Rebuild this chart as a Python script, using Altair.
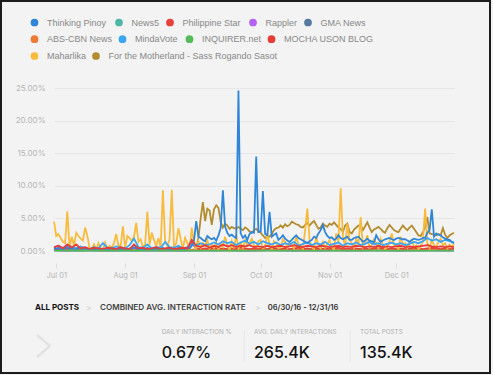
import altair as alt
import pandas as pd

START = pd.Timestamp("2016-06-30")

row1 = ["Thinking Pinoy", "News5", "Philippine Star", "Rappler", "GMA News"]
row1_colors = ["#2f86d8", "#4db6a4", "#e8413c", "#b561f2", "#56799e"]
row2 = ["ABS-CBN News", "MindaVote", "INQUIRER.net", "MOCHA USON BLOG"]
row2_colors = ["#ee7a38", "#3aa6f2", "#55bb59", "#e63b36"]
row3 = ["Maharlika", "For the Motherland - Sass Rogando Sasot"]
row3_colors = ["#f9bb3c", "#b38c2d"]

# daily interaction rate (%), one value per day from 06/30
maharlika = [
    4.5, 2.3, 2.6, 2.0, 1.4, 1.2, 6.1, 0.6, 2.2, 0.8,
    2.8, 2.3, 1.9, 1.6, 3.6, 2.3, 0.5, 0.3, 1.0, 0.2,
    1.2, 0.4, 0.1, 1.3, 0.3, 0.8, 0.5, 1.2, 2.6, 0.8,
    0.7, 3.8, 0.5, 2.3, 2.0, 1.5, 2.2, 4.3, 1.4, 1.8,
    0.6, 1.0, 6.0, 1.0, 2.8, 1.7, 0.8, 2.0, 0.5, 9.3,
    1.5, 0.8, 1.8, 9.4, 0.6, 1.2, 3.5, 1.8, 0.4, 2.0,
    1.2, 0.2, 3.6, 1.0, 0.4, 1.5, 0.5, 1.2, 0.8, 1.7,
    0.3, 1.0, 0.5, 1.3, 0.2, 1.0, 0.6, 2.2, 0.8, 0.1,
    1.5, 0.4, 2.5, 0.3, 1.2, 0.5, 1.7, 0.8, 1.2, 1.9,
    0.9, 0.6, 1.5, 1.7, 0.4, 0.6, 2.7, 1.0, 0.3, 1.5,
    1.2, 0.4, 0.6, 1.8, 1.4, 0.5, 1.3, 0.9, 0.4, 2.2,
    1.0, 0.9, 0.3, 3.2, 6.5, 1.7, 0.6, 0.2, 2.2, 0.9,
    0.4, 1.4, 0.5, 1.1, 1.7, 0.6, 0.2, 2.7, 1.4, 9.6,
    2.2, 0.6, 4.2, 1.7, 1.2, 0.5, 1.9, 1.0, 5.2, 0.6,
    1.3, 2.4, 0.5, 0.9, 1.8, 1.2, 0.4, 1.9, 1.0, 0.3,
    0.6, 1.5, 2.7, 0.8, 0.9, 0.3, 2.2, 1.0, 1.2, 0.5,
    1.4, 1.7, 0.6, 0.9, 0.3, 0.6, 1.5, 6.5, 1.2, 0.5,
    1.7, 0.9, 0.6, 1.4, 1.9, 0.8, 1.2, 0.4, 1.0, 0.6, 1.1,
]

thinking_pinoy = [
    0.4, 0.3, 0.5, 0.3, 0.2, 0.4, 0.6, 0.3, 0.4, 0.2,
    0.3, 0.5, 0.3, 0.2, 0.4, 0.3, 0.2, 0.3, 0.4, 0.2,
    0.3, 0.2, 0.4, 0.3, 0.2, 0.3, 0.5, 0.3, 0.2, 0.4,
    0.3, 0.5, 0.3, 0.2, 0.4, 0.3, 0.6, 0.4, 0.3, 0.2,
    0.4, 0.3, 0.5, 0.3, 0.2, 0.3, 0.4, 0.3, 0.2, 0.5,
    0.3, 0.4, 0.3, 0.2, 0.4, 0.3, 0.5, 0.3, 0.4, 0.3,
    0.5, 0.4, 0.8, 1.6, 4.6, 2.2, 2.0, 1.7, 1.5, 2.3,
    2.0, 1.8, 2.0, 1.6, 2.4, 3.5, 9.3, 3.7, 2.8, 2.3,
    2.5, 2.2, 2.0, 24.6, 2.7, 2.0, 2.4, 1.7, 2.6, 2.9,
    2.8, 14.5, 2.9, 3.0, 9.2, 2.6, 2.4, 6.0, 2.2, 2.5,
    2.7, 1.7, 2.0, 2.4, 1.9, 1.6, 1.4, 1.7, 2.1, 2.4,
    2.0, 1.8, 1.6, 1.4, 1.2, 1.5, 1.7, 2.2, 2.0, 2.7,
    3.2, 4.0, 2.9, 2.3, 2.0, 2.1, 1.7, 1.9, 2.4, 2.0,
    1.8, 2.0, 2.2, 1.7, 1.7, 2.0, 2.1, 2.2, 1.8, 1.4,
    1.6, 1.9, 1.6, 1.5, 1.3, 2.4, 1.8, 1.4, 1.6, 1.8,
    1.9, 2.0, 1.8, 1.7, 1.9, 2.0, 1.9, 1.8, 1.8, 1.6,
    1.4, 1.7, 1.9, 1.8, 1.7, 1.8, 2.0, 2.0, 2.8, 3.2,
    6.4, 2.2, 2.7, 2.5, 2.4, 2.1, 1.9, 1.8, 1.7, 1.4, 1.2,
]

# starts 64 days after 06/30
motherland_start = 64
motherland = [
    0.4, 2.0, 5.0, 7.5, 4.6, 6.5, 6.2, 4.0, 6.4, 7.0,
    6.6, 4.5, 3.6, 4.2, 3.9, 3.4, 3.7, 3.5, 3.4, 3.7,
    3.4, 3.2, 3.6, 3.4, 3.0, 2.8, 3.2, 3.4, 3.0, 2.8,
    2.4, 2.0, 2.3, 2.2, 2.6, 3.2, 3.5, 3.6, 3.9, 3.6,
    4.1, 3.8, 4.0, 4.5, 4.3, 4.1, 4.0, 3.7, 3.6, 4.0,
    4.3, 3.9, 4.3, 4.6, 4.0, 3.4, 3.6, 4.2, 3.9, 3.7,
    4.2, 4.0, 4.4, 4.0, 3.6, 3.4, 2.9, 3.9, 4.2, 2.9,
    2.7, 3.3, 3.6, 3.9, 4.0, 3.2, 3.8, 4.4, 3.6, 2.9,
    3.3, 3.5, 3.7, 3.4, 3.0, 2.8, 3.5, 4.0, 3.6, 3.2,
    3.0, 2.9, 3.4, 3.9, 3.5, 3.2, 3.6, 3.9, 3.4, 2.9,
    2.4, 2.3, 2.9, 3.6, 5.2, 2.7, 2.6, 2.5, 2.4, 2.6,
    2.4, 3.5, 2.5, 2.0, 2.4, 2.6, 2.8,
]

# every second day (%)
mindavote = [
    0.5, 0.8, 0.4, 0.9, 0.6, 0.4, 0.7, 0.5, 0.3, 0.6,
    0.4, 1.2, 0.5, 0.4, 0.7, 0.5, 0.4, 0.9, 1.9, 0.6,
    0.5, 1.0, 0.4, 0.6, 0.5, 1.4, 0.6, 0.5, 0.8, 0.4,
    0.6, 1.0, 0.8, 1.2, 0.9, 1.0, 1.3, 1.0, 1.5, 1.2,
    1.4, 0.9, 1.3, 1.6, 1.1, 1.4, 1.0, 1.5, 1.2, 1.0,
    1.3, 0.9, 1.2, 1.0, 1.4, 0.8, 1.1, 1.3, 0.9, 1.2,
    1.0, 1.4, 0.9, 1.1, 1.3, 0.8, 1.2, 1.0, 1.3, 0.9,
    1.1, 1.4, 1.0, 1.2, 0.9, 1.1, 1.3, 1.0, 1.2, 0.9,
    1.1, 1.4, 1.2, 1.5, 2.0, 1.6, 1.8, 1.4, 1.7, 1.5, 1.3,
]
mocha = [
    0.6, 0.8, 0.4, 1.0, 0.5, 1.0, 0.4, 0.6, 0.3, 0.5,
    0.4, 0.3, 0.5, 0.4, 0.3, 0.6, 0.4, 0.3, 1.0, 0.4,
    0.5, 0.3, 0.4, 0.6, 0.3, 0.4, 0.5, 0.3, 0.4, 0.5,
    0.4, 1.7, 0.8, 0.6, 0.9, 0.5, 0.8, 0.6, 1.0, 0.7,
    0.9, 0.6, 0.8, 0.7, 0.9, 0.6, 0.7, 0.6, 0.8, 0.6,
    0.7, 0.8, 0.6, 0.7, 0.9, 0.7, 0.6, 0.8, 0.7, 0.6,
    0.8, 0.7, 0.6, 0.7, 0.8, 0.6, 0.7, 0.6, 0.8, 0.7,
    0.6, 0.7, 0.6, 0.8, 0.6, 0.7, 0.6, 0.7, 0.8, 0.6,
    0.7, 0.6, 0.7, 0.8, 0.9, 0.7, 0.6, 0.7, 0.6, 0.7, 0.6,
]
philstar = [
    0.3, 0.2, 0.5, 0.3, 0.7, 0.3, 0.2, 0.4, 0.3, 0.2,
    0.3, 0.2, 0.3, 0.4, 0.2, 0.3, 0.2, 0.3, 0.5, 0.2,
    0.3, 0.2, 0.4, 0.3, 0.2, 0.3, 0.2, 0.3, 0.2, 0.3,
    0.4, 1.2, 0.4, 0.3, 0.4, 0.3, 0.5, 0.3, 0.4, 0.3,
    0.4, 0.3, 0.5, 0.4, 0.3, 0.4, 0.3, 0.4, 0.3, 0.5,
    0.4, 0.3, 0.4, 0.3, 0.4, 0.5, 0.3, 0.4, 0.3, 0.4,
    0.3, 0.4, 0.3, 0.4, 0.5, 0.3, 0.4, 0.3, 0.4, 0.3,
    0.4, 0.3, 0.4, 0.5, 0.4, 0.3, 0.4, 0.3, 0.4, 0.3,
    0.4, 0.5, 0.4, 0.3, 0.4, 0.5, 0.4, 0.3, 0.4, 0.3, 0.4,
]

# every sixth day (%)
news5 = [0.15, 0.1, 0.2, 0.1, 0.15, 0.1, 0.12, 0.2, 0.1, 0.15, 0.12, 0.1, 0.2, 0.15, 0.1, 0.12,
         0.18, 0.1, 0.15, 0.12, 0.1, 0.2, 0.12, 0.15, 0.1, 0.12, 0.18, 0.1, 0.15, 0.12, 0.1]
rappler = [0.1, 0.08, 0.12, 0.1, 0.06, 0.1, 0.12, 0.08, 0.1, 0.06, 0.1, 0.12, 0.08, 0.1, 0.1, 0.06,
           0.1, 0.12, 0.08, 0.1, 0.06, 0.1, 0.12, 0.08, 0.1, 0.1, 0.06, 0.1, 0.12, 0.08, 0.1]
gma = [0.12, 0.1, 0.08, 0.12, 0.1, 0.14, 0.08, 0.1, 0.12, 0.1, 0.08, 0.12, 0.1, 0.14, 0.08, 0.1,
       0.12, 0.1, 0.08, 0.12, 0.1, 0.14, 0.08, 0.1, 0.12, 0.1, 0.08, 0.12, 0.1, 0.14, 0.1]
abscbn = [0.2, 0.15, 0.25, 0.18, 0.15, 0.2, 0.22, 0.15, 0.18, 0.2, 0.15, 0.25, 0.18, 0.2, 0.15, 0.22,
          0.18, 0.2, 0.15, 0.25, 0.18, 0.2, 0.15, 0.22, 0.18, 0.2, 0.15, 0.25, 0.18, 0.2, 0.15]
inquirer = [0.06, 0.05, 0.08, 0.05, 0.06, 0.07, 0.05, 0.06, 0.08, 0.05, 0.06, 0.05, 0.07, 0.06, 0.05, 0.06,
            0.08, 0.05, 0.06, 0.05, 0.07, 0.06, 0.05, 0.06, 0.08, 0.05, 0.06, 0.05, 0.07, 0.06, 0.05]

crumbs = ["ALL POSTS", "COMBINED AVG. INTERACTION RATE", "06/30/16 - 12/31/16"]
stat_labels = ["DAILY INTERACTION %", "AVG. DAILY INTERACTIONS", "TOTAL POSTS"]
stat_values = ["0.67%", "265.4K", "135.4K"]

SERIES = {
    "Thinking Pinoy": (thinking_pinoy, 0, 1),
    "News5": (news5, 0, 6),
    "Philippine Star": (philstar, 0, 2),
    "Rappler": (rappler, 0, 6),
    "GMA News": (gma, 0, 6),
    "ABS-CBN News": (abscbn, 0, 6),
    "MindaVote": (mindavote, 0, 2),
    "INQUIRER.net": (inquirer, 0, 6),
    "MOCHA USON BLOG": (mocha, 0, 2),
    "Maharlika": (maharlika, 0, 1),
    "For the Motherland - Sass Rogando Sasot": (motherland, motherland_start, 1),
}

COLORS = dict(zip(row1 + row2 + row3, row1_colors + row2_colors + row3_colors))

# legend entry anchors (circle centre in page pixels), laid out in three rows
LEGEND_ROWS_Y = [23.5, 40.2, 57.0]
LEGEND_POS = {
    "Thinking Pinoy": (34.5, 0), "News5": (119, 0), "Philippine Star": (170, 0),
    "Rappler": (253, 0), "GMA News": (308, 0),
    "ABS-CBN News": (34.5, 1), "MindaVote": (122.5, 1), "INQUIRER.net": (189.5, 1),
    "MOCHA USON BLOG": (271.5, 1),
    "Maharlika": (34.5, 2), "For the Motherland - Sass Rogando Sasot": (96, 2),
}

PAD_L, PAD_T = 54, 88


def frame(name):
    vals, offset, step = SERIES[name]
    dates = [START + pd.Timedelta(days=offset + i * step) for i in range(len(vals))]
    return pd.DataFrame({
        "date": [d.strftime("%Y-%m-%d") for d in dates],
        "value": [v / 100 for v in vals],
        "series": name,
    })


FONT = "Inter"
LEGEND_FONT = "Liberation Sans"

x_enc = alt.X(
    "date:T",
    scale=alt.Scale(
        type="utc", nice=False,
        domain=[alt.DateTime(year=2016, month=6, date=30, utc=True),
                alt.DateTime(year=2016, month=12, date=27, utc=True)],
    ),
    axis=alt.Axis(
        values=[alt.DateTime(year=2016, month=m, date=1, utc=True) for m in range(7, 13)],
        format="%b %d", title=None, domain=False, grid=False, ticks=True,
        tickColor="#dcdcdc", tickSize=5, offset=12, labelPadding=3,
        labelColor="#b5b5b5", labelFontSize=7.5, labelFont=FONT,
    ),
)
y_enc = alt.Y(
    "value:Q",
    scale=alt.Scale(domain=[0, 0.25], nice=False),
    axis=alt.Axis(
        values=[0, 0.05, 0.10, 0.15, 0.20, 0.25], format=".2%", title=None,
        domain=False, ticks=False, grid=True, gridColor="#e6e6e6",
        labelPadding=9, labelColor="#b5b5b5", labelFontSize=8, labelFont=FONT,
    ),
)


def series_layer(name):
    cx, row = LEGEND_POS[name]
    cy = LEGEND_ROWS_Y[row]
    return alt.Chart(frame(name)).mark_line(strokeWidth=1.8).encode(
        x=x_enc,
        y=y_enc,
        color=alt.Color(
            "series:N",
            scale=alt.Scale(domain=[name], range=[COLORS[name]]),
            legend=alt.Legend(
                orient="none", legendX=cx - PAD_L - 4.5, legendY=cy - PAD_T - 5.5,
                direction="horizontal", title=None, symbolType="circle",
                symbolSize=14, symbolStrokeWidth=4,
                labelFont=LEGEND_FONT, labelFontSize=9, labelColor="#888888",
                labelOffset=8, padding=0, labelLimit=400,
            ),
        ),
    )


draw_order = ["News5", "Rappler", "GMA News", "ABS-CBN News", "Philippine Star",
              "For the Motherland - Sass Rogando Sasot", "Maharlika", "MindaVote",
              "Thinking Pinoy", "MOCHA USON BLOG", "INQUIRER.net"]
lines = [series_layer(n) for n in draw_order]

one = pd.DataFrame({"k": [0]})


def text(s, x, y, size, color, weight="normal"):
    return alt.Chart(pd.DataFrame({"t": [s]})).mark_text(
        align="left", baseline="middle", font=FONT, fontSize=size,
        fontWeight=weight, color=color,
    ).encode(x=alt.value(x), y=alt.value(y), text="t:N")


def seg(x, y, x2, y2, color, width):
    return alt.Chart(one).mark_rule(stroke=color, strokeWidth=width).encode(
        x=alt.value(x), y=alt.value(y), x2=alt.value(x2), y2=alt.value(y2))


border = alt.Chart(one).mark_rect(fillOpacity=0, stroke="#1c1c1c", strokeWidth=2).encode(
    x=alt.value(-53), x2=alt.value(436), y=alt.value(-87), y2=alt.value(285))

deco = [
    border,
    text(crumbs[0], -19, 219.7, 8, "#111111", "bold"),
    text(">", 32, 219.7, 8.5, "#cccccc"),
    text(crumbs[1], 46, 219.7, 8.1, "#444444", 600),
    text(">", 201, 219.7, 8.5, "#cccccc"),
    text(crumbs[2], 213.7, 219.7, 7.6, "#333333", 600),
    seg(-17, 247, -4, 258, "#e2e2e2", 2.5),
    seg(-4, 258, -17, 269, "#e2e2e2", 2.5),
    seg(190.3, 242, 190.3, 274, "#e8e8e8", 1),
    seg(296, 242, 296, 274, "#e8e8e8", 1),
    text(stat_labels[0], 107.7, 244.3, 6.3, "#b0b0b0"),
    text(stat_labels[1], 200, 244.3, 6.3, "#b0b0b0"),
    text(stat_labels[2], 306, 244.3, 6.3, "#b0b0b0"),
    text(stat_values[0], 107.7, 264.5, 16, "#111111", 500),
    text(stat_values[1], 200, 264.5, 16, "#111111", 500),
    text(stat_values[2], 306, 264.5, 16, "#111111", 500),
]

chart = alt.layer(*lines, *deco).resolve_scale(color="independent").properties(
    width=400, height=163,
    background="#f3f3f3",
    padding={"left": PAD_L, "top": PAD_T, "right": 39, "bottom": 124},
    autosize=alt.AutoSizeParams(type="none"),
).configure_view(stroke="transparent")

chart.save("out.html", embed_options={"renderer": "svg", "actions": False})
